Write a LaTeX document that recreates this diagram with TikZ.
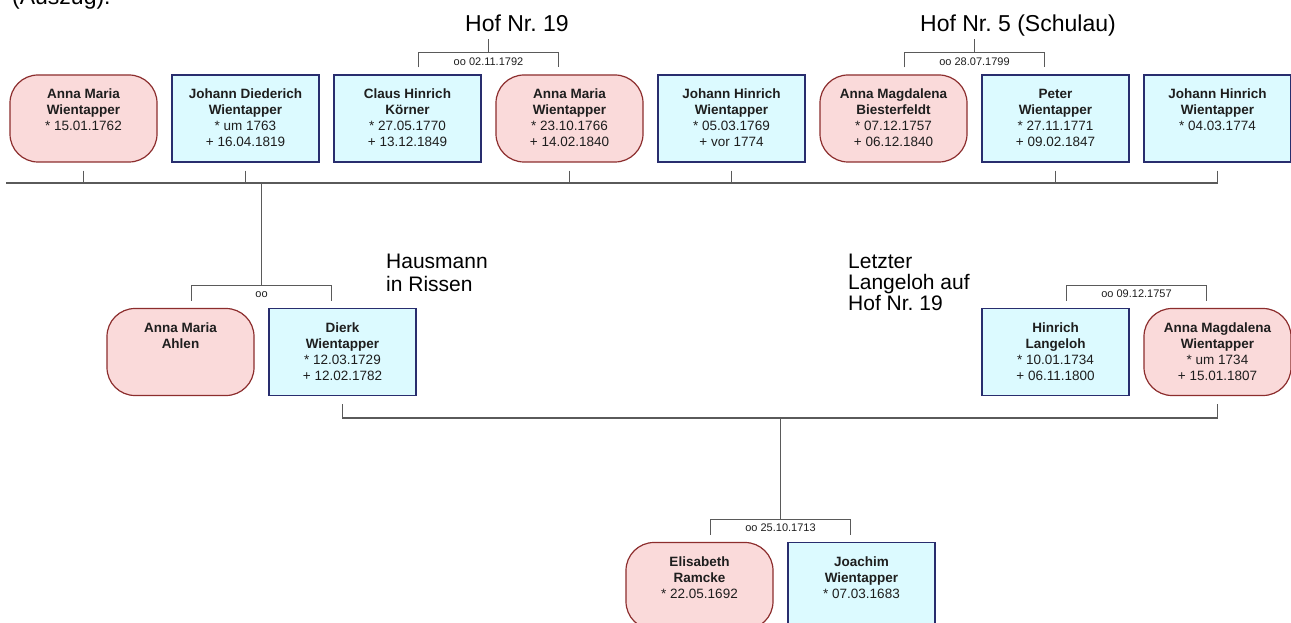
\documentclass[tikz,border=0pt]{standalone}
\usepackage{fontspec}
\setmainfont{Liberation Sans}
\usetikzlibrary{calc}
\frenchspacing

\definecolor{ffill}{RGB}{250,218,218}
\definecolor{fborder}{RGB}{140,45,45}
\definecolor{mfill}{RGB}{220,250,255}
\definecolor{mborder}{RGB}{40,45,110}
\definecolor{linkc}{RGB}{90,90,90}
\definecolor{txt}{RGB}{30,30,30}

% person card: bold name lines, then the dates
\newcommand\card[2]{\parbox[c][87pt][t]{147pt}{\centering
  \fontsize{13.5}{16}\selectfont\rule{0pt}{24pt}\textbf{#1}\par #2}}
% multi-line free note, baseline at the first line
\newcommand\notelines[1]{\begin{tabular}[t]{@{}l@{}}#1\end{tabular}}

\begin{document}
\begin{tikzpicture}[x=1pt,y=-1pt,
  female/.style={draw=fborder,fill=ffill,line width=1.2pt,rounded corners=28pt,
    inner sep=0pt,text=txt},
  male/.style={draw=mborder,fill=mfill,line width=1.2pt,inner sep=0pt,text=txt},
  link/.style={draw=linkc,line width=1.1pt},
  marr/.style={font=\fontsize{11}{13}\selectfont,text=txt,inner sep=0pt},
  bignote/.style={font=\fontsize{23}{26}\selectfont,text=black,inner sep=0pt,anchor=base west},
  sidenote/.style={text=black,inner sep=0pt,anchor=base west}]

\useasboundingbox (0,0) rectangle (1291,623);
\clip (0,0) rectangle (1291,623);

% headings and notes
\node[bignote] (ausz) at (12,5) {(Auszug).};
\node[bignote] (hof19) at (465,32) {Hof Nr. 19};
\node[bignote] (hof5) at (920,32) {Hof Nr. 5 (Schulau)};
\node[sidenote] (haus) at (386,268)
  {\fontsize{21}{23}\selectfont\notelines{Hausmann\\in Rissen}};
\node[sidenote] (letzt) at (848,268)
  {\fontsize{21}{20}\selectfont\notelines{Letzter\\Langeloh auf\\Hof Nr. 19}};

% children generation
\node[female] (t1) at (83.5,118.5) {\card{Anna Maria\\Wientapper}{* 15.01.1762}};
\node[male]   (t2) at (245.5,118.5) {\card{Johann Diederich\\Wientapper}{* um 1763\\+ 16.04.1819}};
\node[male]   (t3) at (407.5,118.5) {\card{Claus Hinrich\\Körner}{* 27.05.1770\\+ 13.12.1849}};
\node[female] (t4) at (569.5,118.5) {\card{Anna Maria\\Wientapper}{* 23.10.1766\\+ 14.02.1840}};
\node[male]   (t5) at (731.5,118.5) {\card{Johann Hinrich\\Wientapper}{* 05.03.1769\\+ vor 1774}};
\node[female] (t6) at (893.5,118.5) {\card{Anna Magdalena\\Biesterfeldt}{* 07.12.1757\\+ 06.12.1840}};
\node[male]   (t7) at (1055.5,118.5) {\card{Peter\\Wientapper}{* 27.11.1771\\+ 09.02.1847}};
\node[male]   (t8) at (1217.5,118.5) {\card{Johann Hinrich\\Wientapper}{* 04.03.1774}};

% parents generation
\node[female] (m1) at (180.5,352) {\card{Anna Maria\\Ahlen}{}};
\node[male]   (m2) at (342.5,352) {\card{Dierk\\Wientapper}{* 12.03.1729\\+ 12.02.1782}};
\node[male]   (m3) at (1055.5,352) {\card{Hinrich\\Langeloh}{* 10.01.1734\\+ 06.11.1800}};
\node[female] (m4) at (1217.5,352) {\card{Anna Magdalena\\Wientapper}{* um 1734\\+ 15.01.1807}};

% grandparents
\node[female] (b1) at (699.5,586) {\card{Elisabeth\\Ramcke}{* 22.05.1692}};
\node[male]   (b2) at (861.5,586) {\card{Joachim\\Wientapper}{* 07.03.1683}};

% marriage brackets
\coordinate (tA) at ($(t3.north)!0.5!(t4.north)$);
\coordinate (tB) at ($(t6.north)!0.5!(t7.north)$);
\coordinate (mA) at ($(m1.north)!0.5!(m2.north)$);
\coordinate (mB) at ($(m3.north)!0.5!(m4.north)$);
\coordinate (bA) at ($(b1.north)!0.5!(b2.north)$);
\foreach \c in {tA,tB,mA,mB,bA}
  \draw[link] ($(\c)+(-70,-7)$) -- ($(\c)+(-70,-22)$) -- ($(\c)+(70,-22)$) -- ($(\c)+(70,-7)$);
\node[marr] (tAl) at ($(tA)+(0,-13)$) {oo 02.11.1792};
\node[marr] (tBl) at ($(tB)+(0,-13)$) {oo 28.07.1799};
\node[marr] (mAl) at ($(mA)+(0,-13)$) {oo};
\node[marr] (mBl) at ($(mB)+(0,-14)$) {oo 09.12.1757};
\node[marr] (bAl) at ($(bA)+(0,-14)$) {oo 25.10.1713};

% stubs above the top couples
\coordinate (tAup) at ($(tA)+(0,-35)$);
\coordinate (tBup) at ($(tB)+(0,-35)$);
\draw[link] ($(tA)+(0,-22)$) -- (tAup);
\draw[link] ($(tB)+(0,-22)$) -- (tBup);

% sibling line of the children
\coordinate (sib) at (6,183);
\draw[link] (sib) -- (t8.south |- sib);
\foreach \n in {t1,t2,t4,t5,t7,t8}
  \draw[link] ($(\n.south)+(0,8)$) -- (\n.south |- sib);
\draw[link] (mA |- sib) -- ($(mA)+(0,-22)$);

% sibling line of the parents
\coordinate (low) at (0,418);
\draw[link] ($(m2.south)+(0,8)$) |- (m4.south |- low) -- ($(m4.south)+(0,8)$);
\draw[link] (bA |- low) -- ($(bA)+(0,-22)$);

\end{tikzpicture}
\end{document}
